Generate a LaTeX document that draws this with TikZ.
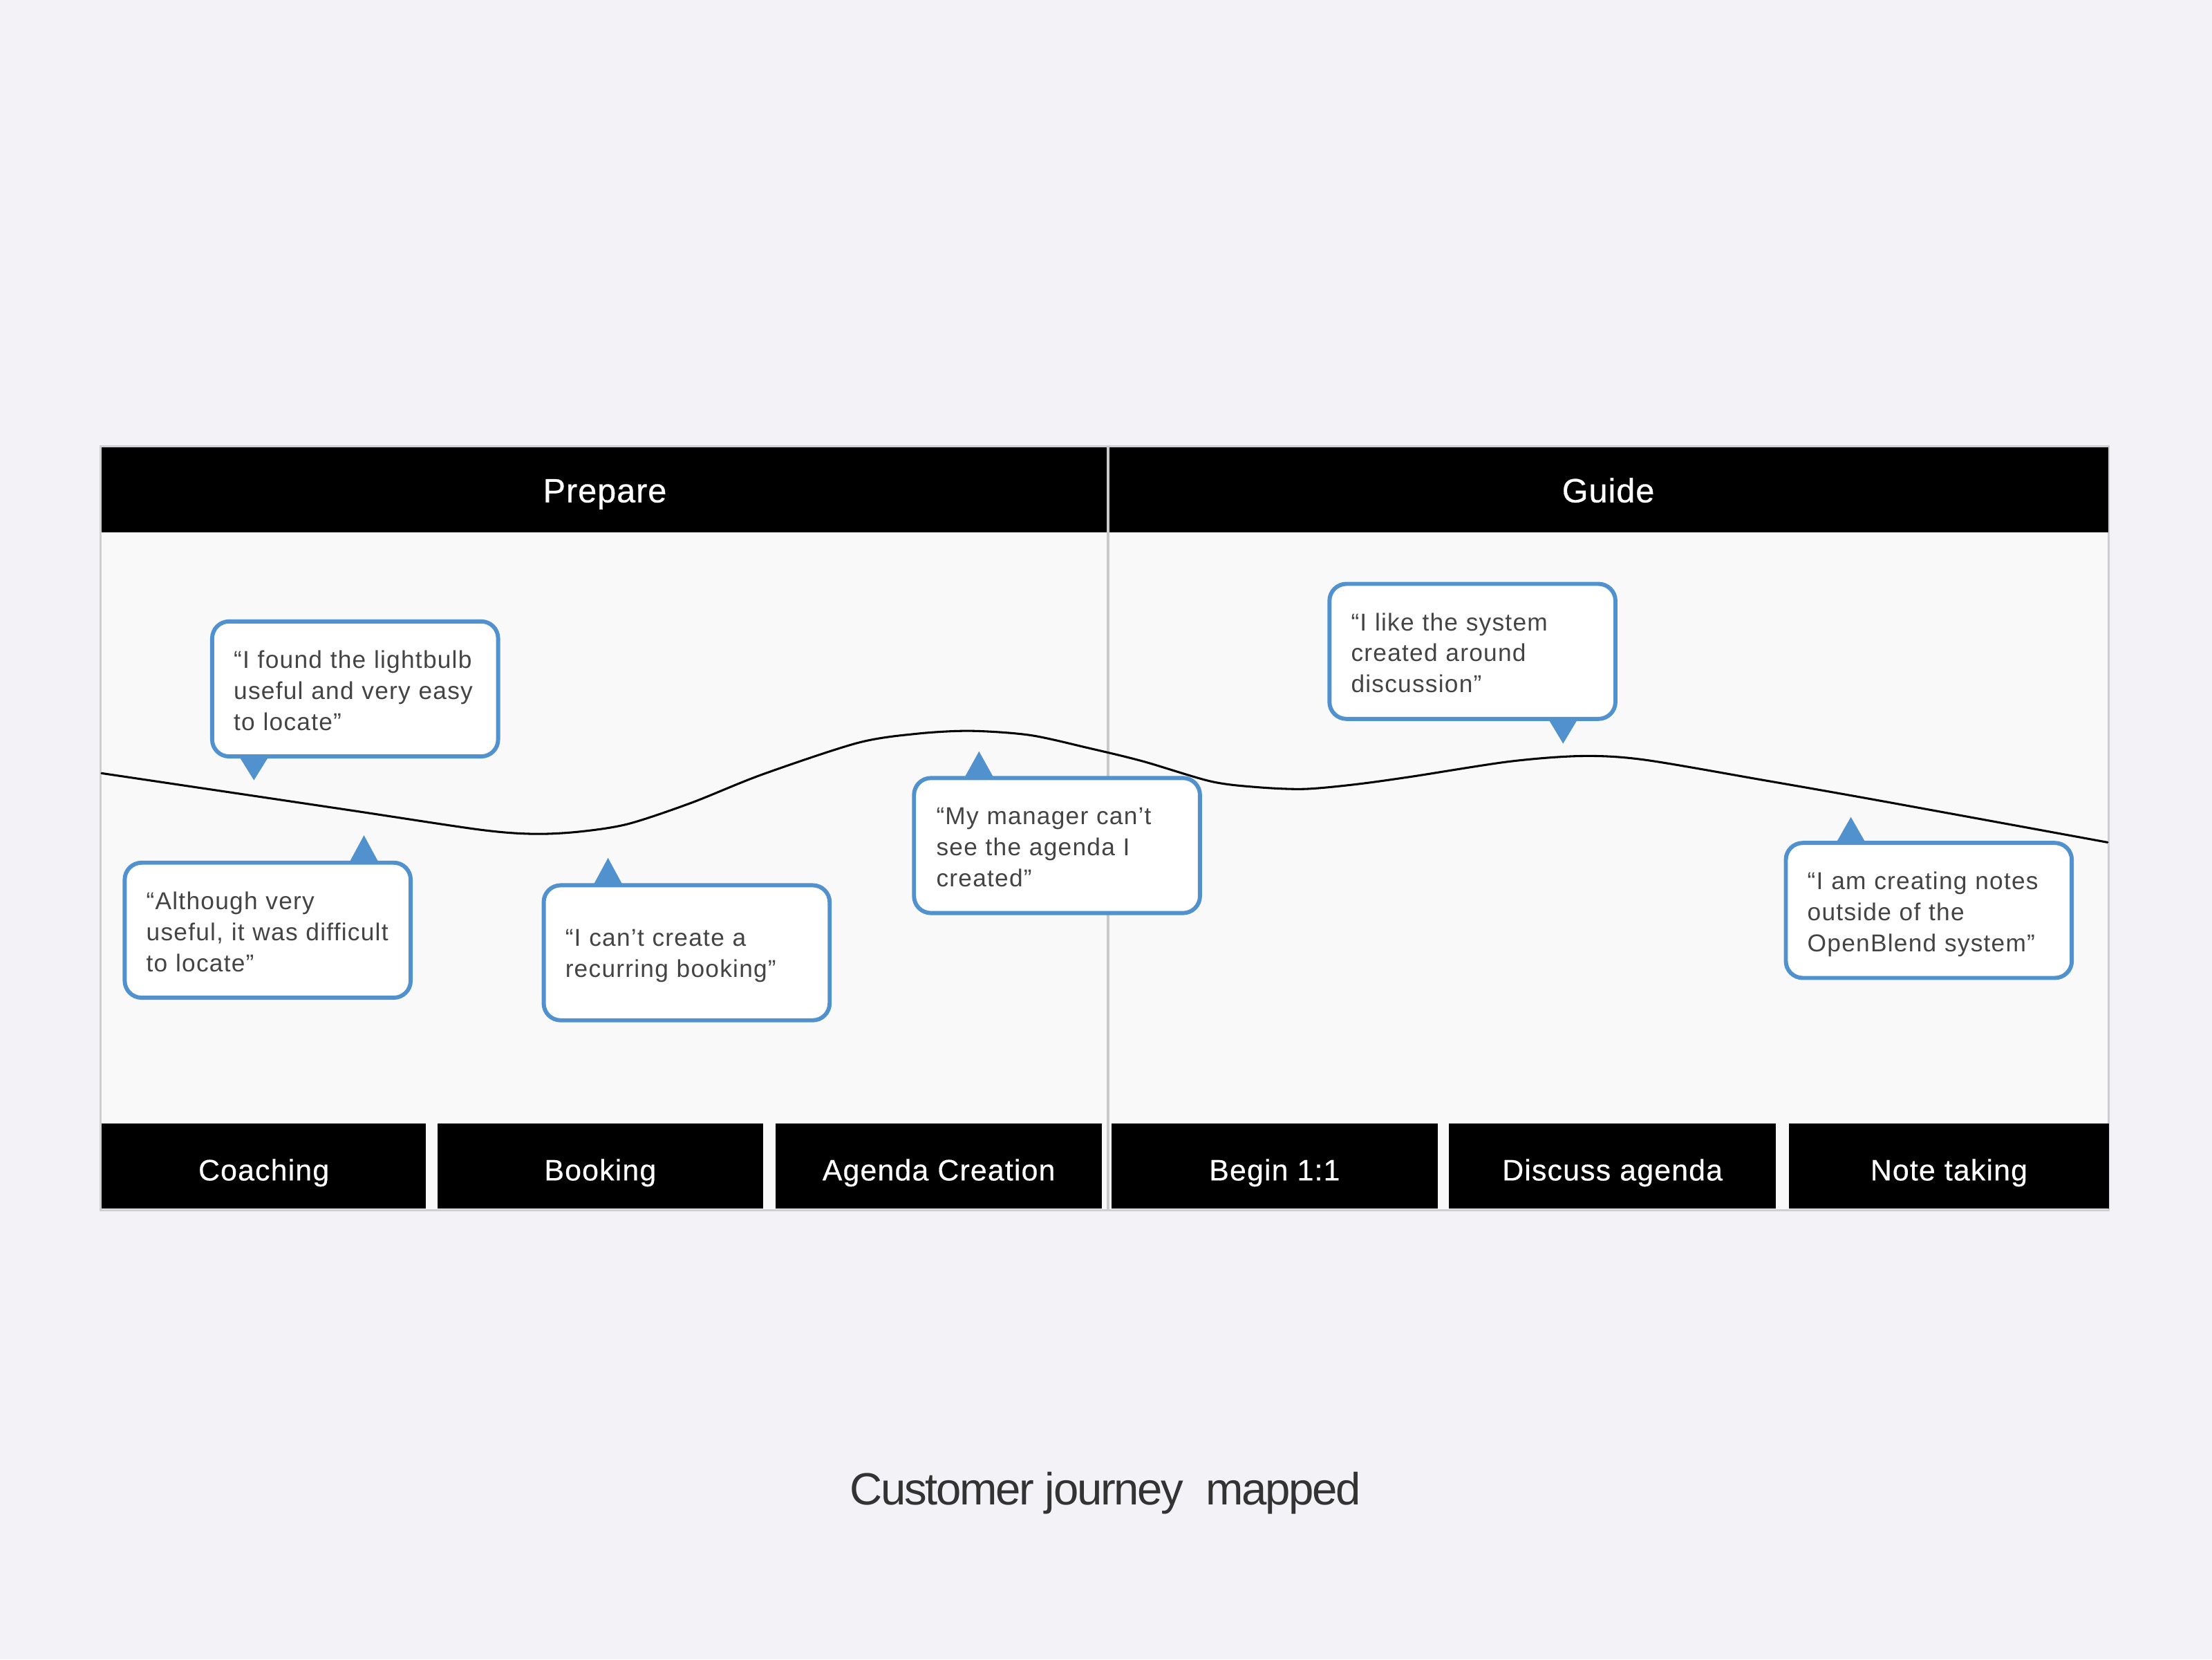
\documentclass[tikz,border=0pt]{standalone}
\usepackage{fontspec}
\setmainfont{Liberation Sans}
\newfontfamily\qfont{Liberation Sans}[LetterSpace=3.5]
\newfontfamily\hfont{Liberation Sans}[LetterSpace=2,FakeBold=0.6]
\newfontfamily\lfont{Liberation Sans}[LetterSpace=2.7,FakeBold=0.4]
\newfontfamily\cfont{Liberation Sans}[LetterSpace=-3.5]
\definecolor{pagebg}{HTML}{F3F3F7}
\definecolor{panel}{HTML}{F9F9F9}
\definecolor{framegray}{HTML}{CFCFCF}
\definecolor{divgray}{HTML}{C9C9C9}
\definecolor{bblue}{HTML}{5191CE}
\definecolor{qgray}{HTML}{444444}
\definecolor{capgray}{HTML}{333333}
\tikzset{
  hdrbox/.style={fill=black, text=white, inner sep=0pt, outer sep=0pt,
    minimum height=60.3pt, text height=17.7pt, text depth=0pt,
    font=\hfont\fontsize{23.8}{28}\selectfont},
  stagebox/.style={fill=black, text=white, inner sep=0pt, outer sep=0pt,
    minimum height=60.5pt, text height=20.7pt, text depth=0pt,
    font=\lfont\fontsize{21}{25}\selectfont},
  bubblebox/.style={draw=bblue, line width=2.9pt, fill=white, rounded corners=12pt,
    minimum width=202.7pt, minimum height=95.7pt, inner sep=0pt, outer sep=0pt,
    anchor=north west},
  qtext/.style={anchor=base west, align=left, text width=185pt, inner sep=0pt,
    text=qgray, font=\qfont\fontsize{17.3}{22}\selectfont},
  tailfill/.style={fill=bblue},
  journey/.style={draw=black, line width=1.5pt, line cap=round, line join=round},
  divline/.style={draw=divgray, line width=1.6pt},
  captext/.style={anchor=base, inner sep=0pt, text=capgray,
    font=\cfont\fontsize{32}{38}\selectfont}
}
\begin{document}
\begin{tikzpicture}[x=1pt,y=-1pt]
\useasboundingbox (0,0) rectangle (1568,1176);
\fill[pagebg] (0,0) rectangle (1568,1176);
% frame
\draw[framegray, line width=1.5pt, fill=panel] (71.5,316.2) rectangle (1494.8,857.5);
% headers
\node[hdrbox, minimum width=713.5pt] (prep) at (428.75,347.15) {Prepare};
\node[hdrbox, minimum width=709pt] (guide) at (1140,347.15) {Guide};
% divider
\draw[divline] (785.5,316.5) -- (785.5,857);
% stages
\node[stagebox, minimum width=230pt] (s1) at (187,826.25) {Coaching};
\node[stagebox, minimum width=231pt] (s2) at (425.5,826.25) {Booking};
\node[stagebox, minimum width=231pt] (s3) at (665.5,826.25) {Agenda Creation};
\node[stagebox, minimum width=231pt] (s4) at (903.5,826.25) {Begin 1:1};
\node[stagebox, minimum width=232pt] (s5) at (1143,826.25) {Discuss agenda};
\node[stagebox, minimum width=227pt] (s6) at (1381.5,826.25) {Note taking};
% journey curve
\draw[journey] plot[smooth, tension=0.5] coordinates {
 (72,548) (150,559.6) (250,574.5) (340,588) (378,591) (410,589.5) (445,584)
 (490,569) (540,549) (608,526.5) (650,520) (688,518) (730,521) (771,530)
 (810,539.5) (858,553.7) (890,557.8) (924,559.2) (960,556) (1000,550.5)
 (1070,539.7) (1121,535.8) (1165,538.4) (1250,552.9) (1330,567) (1494,597)};
% bubble 1
\node[bubblebox] (b1) at (150.4,440.4) {};
\fill[tailfill] (169.5,536.1) -- (180,553) -- (190.5,536.1) -- cycle;
\node[qtext] (t1) at (165.5,473.5) {“I found the lightbulb\\useful and very easy\\to locate”};
% bubble 2
\node[bubblebox] (b2) at (88.4,611.4) {};
\fill[tailfill] (247.5,611.4) -- (258,592) -- (268.5,611.4) -- cycle;
\node[qtext] (t2) at (103.5,644.5) {“Although very\\useful, it was difficult\\to locate”};
% bubble 3
\node[bubblebox] (b3) at (385.4,627.4) {};
\fill[tailfill] (420.5,627.4) -- (431,608) -- (441.5,627.4) -- cycle;
\node[qtext] (t3) at (400.5,670.5) {“I can’t create a\\recurring booking”};
% bubble 4
\node[bubblebox] (b4) at (647.9,551.4) {};
\fill[tailfill] (683.5,551.4) -- (694,532.5) -- (704.5,551.4) -- cycle;
\node[qtext] (t4) at (663.5,584.5) {“My manager can’t\\see the agenda I\\created”};
% bubble 5
\node[bubblebox] (b5) at (942.4,413.8) {};
\fill[tailfill] (1097.5,509.5) -- (1108,527) -- (1118.5,509.5) -- cycle;
\node[qtext] (t5) at (957.5,446.9) {“I like the system\\created around\\discussion”};
% bubble 6
\node[bubblebox] (b6) at (1265.9,597.4) {};
\fill[tailfill] (1301.5,597.4) -- (1312,579) -- (1322.5,597.4) -- cycle;
\node[qtext] (t6) at (1281,630.6) {“I am creating notes\\outside of the\\OpenBlend system”};
% caption
\node[captext] (cap) at (783.5,1066.6) {Customer journey\ \ mapped};
\end{tikzpicture}
\end{document}
